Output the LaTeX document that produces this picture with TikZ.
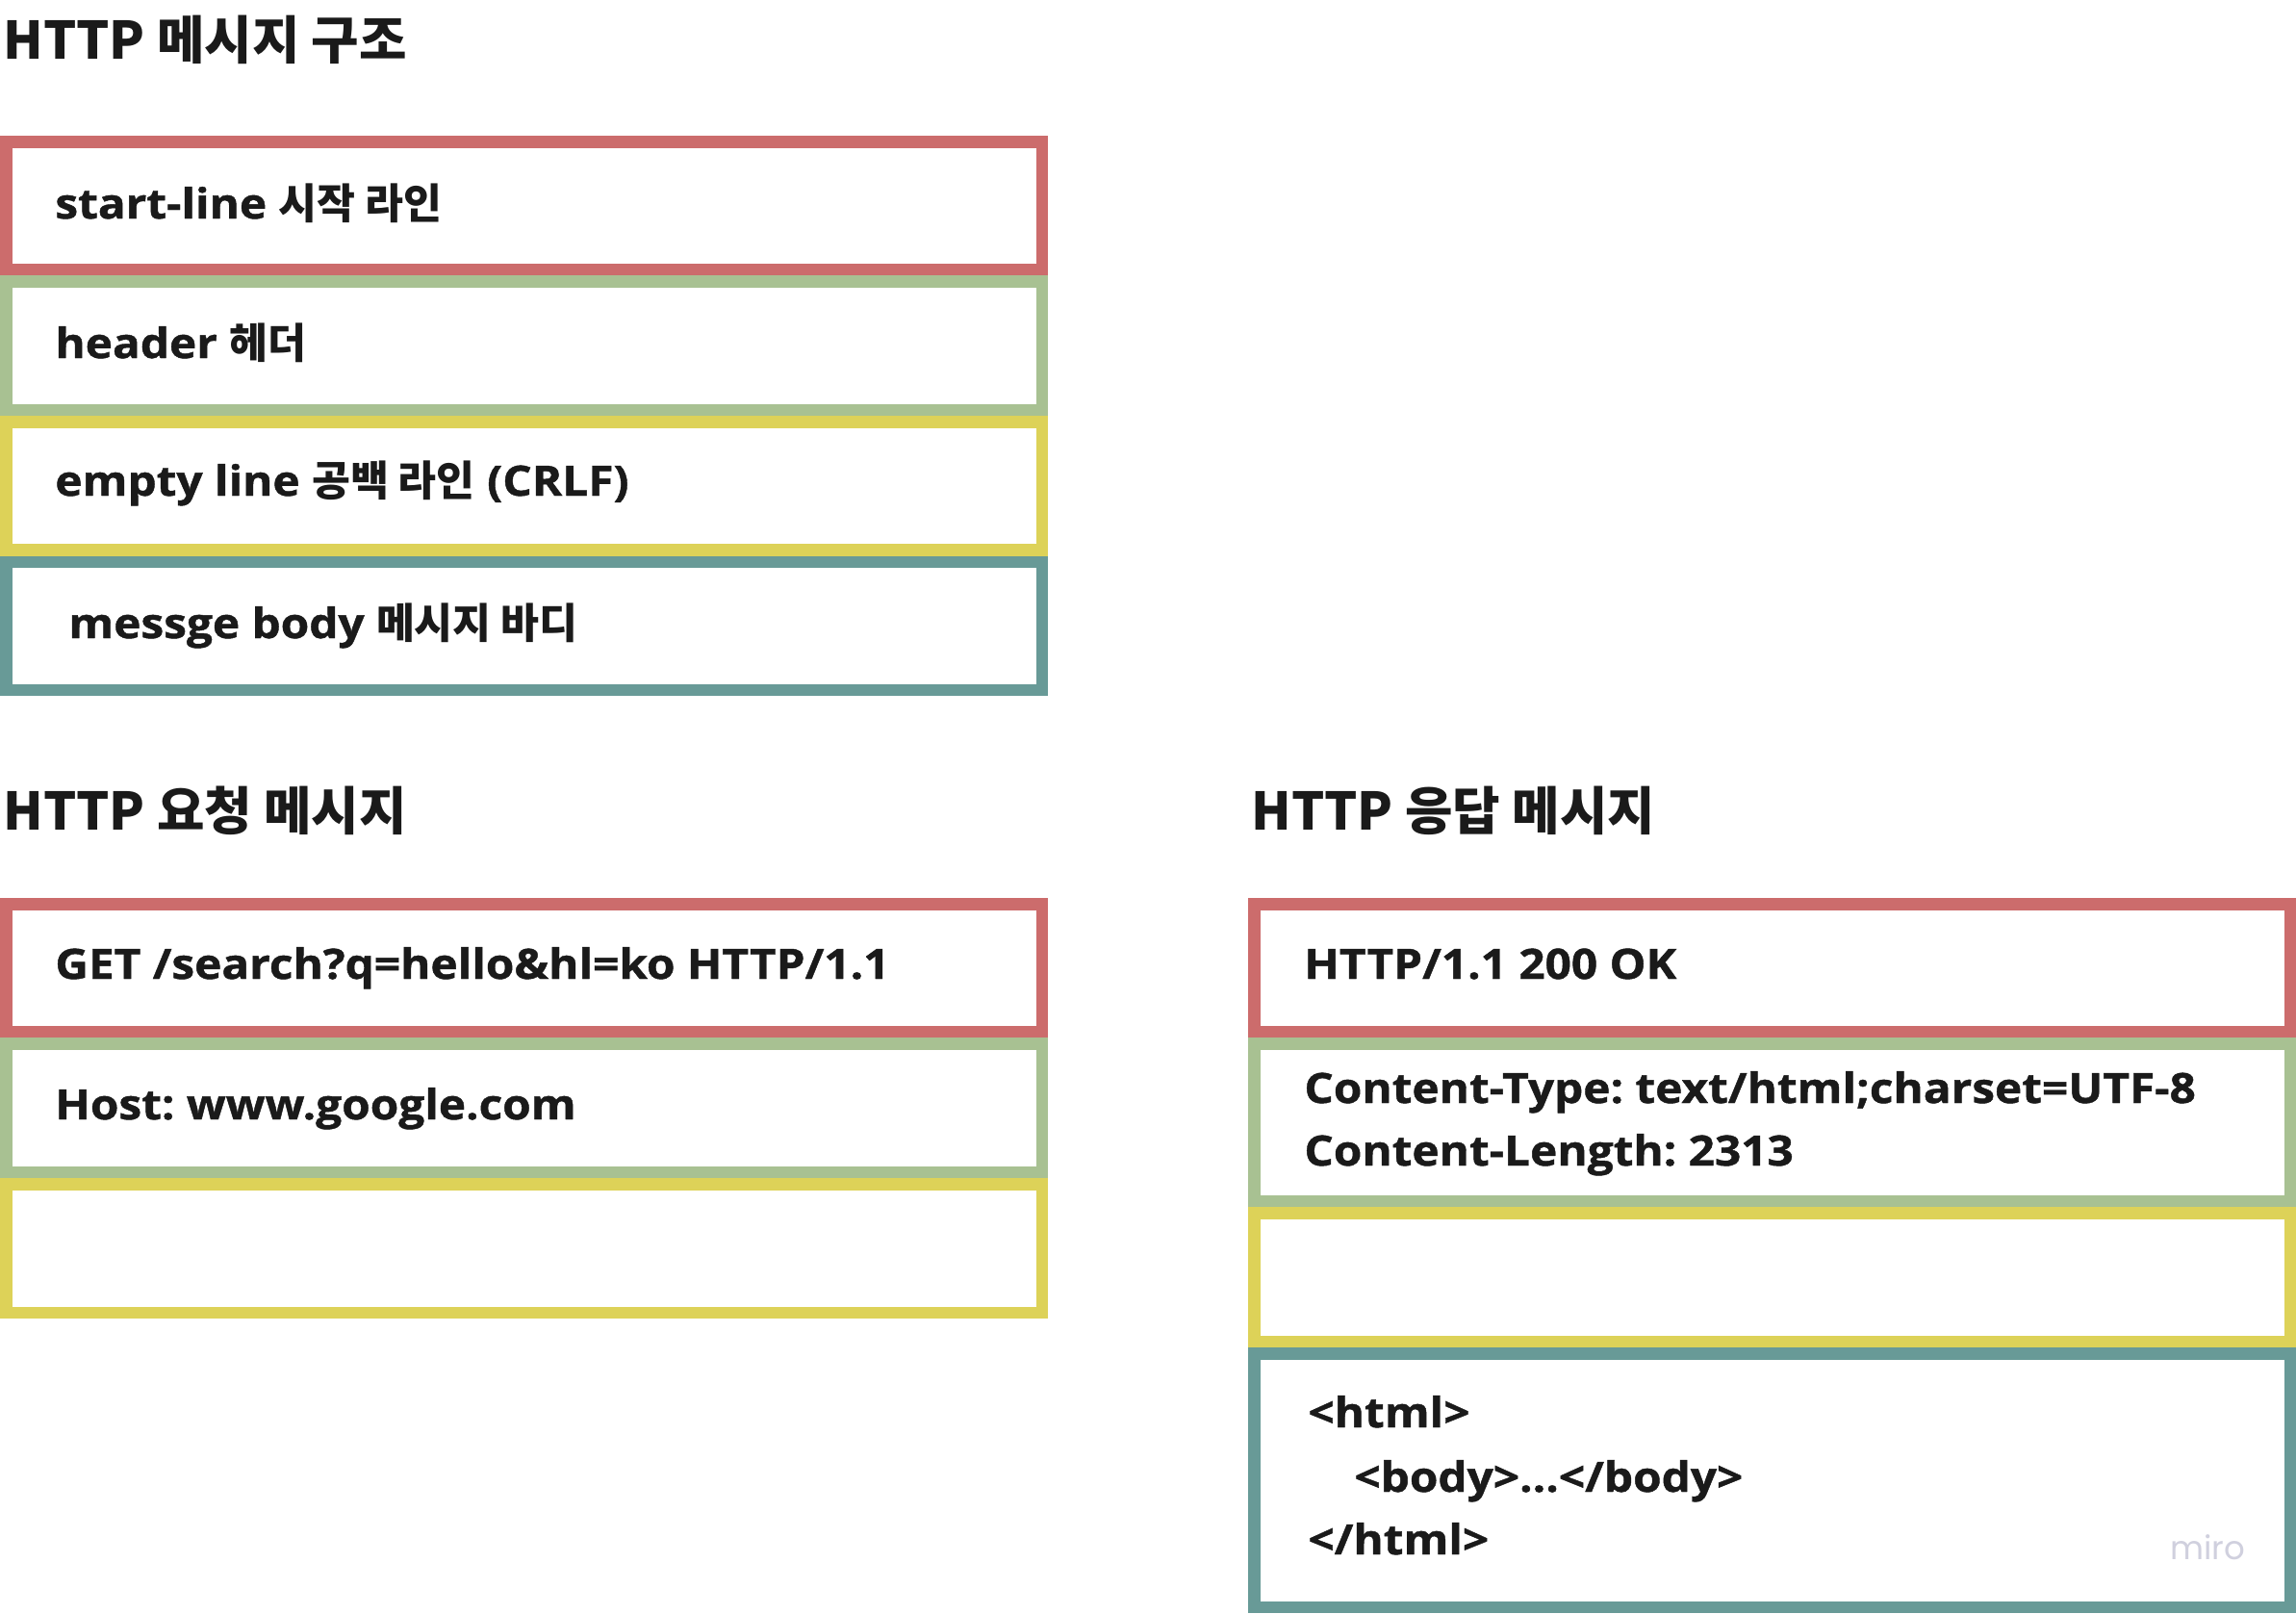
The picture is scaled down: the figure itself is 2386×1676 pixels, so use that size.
\documentclass[tikz,border=0pt]{standalone}
\usepackage{fontspec}
\setmainfont{Open Sans}
\newfontfamily\boxfont{Open Sans}[FakeStretch=1.1, FakeBold=1]
\newfontfamily\kr{Noto Sans CJK KR}
\newfontfamily\mirofont{Poppins}
\definecolor{bred}{HTML}{CC6C6C}
\definecolor{bgreen}{HTML}{A8C192}
\definecolor{byellow}{HTML}{DDD258}
\definecolor{bteal}{HTML}{689A97}
\definecolor{ink}{HTML}{1A1A1A}
\definecolor{wm}{HTML}{D0D0DE}
\newcommand{\msgbox}[5]{\draw[#5, line width=6.25pt] (#1+6.25,#2+6.25) rectangle (#3-6.25,#4-6.25);}
\frenchspacing
\begin{document}
\begin{tikzpicture}[x=0.5pt,y=-0.5pt,
  boxtext/.style={anchor=base west, inner sep=0pt, text=ink, font=\boxfont\bfseries\fontsize{21.7pt}{26pt}\selectfont},
  titletext/.style={anchor=base west, inner sep=0pt, text=ink, font=\kr\bfseries\fontsize{26.9pt}{32pt}\selectfont}]
\useasboundingbox[fill=white] (0,0) rectangle (2386,1676);

% titles
\node[titletext] (t1) at (3,61) {HTTP 메시지 구조};
\node[titletext] (t2) at (3,862) {HTTP 요청 메시지};
\node[titletext] (t3) at (1300,862) {HTTP 응답 메시지};

% structure boxes
\msgbox{0}{141}{1089}{286}{bred}
\msgbox{0}{286}{1089}{432}{bgreen}
\msgbox{0}{432}{1089}{577.5}{byellow}
\msgbox{0}{577.5}{1089}{723}{bteal}
\node[boxtext] (s1) at (57,227) {start-line {\kr 시작 라인}};
\node[boxtext] (s2) at (57,372) {header {\kr 헤더}};
\node[boxtext] (s3) at (57,515) {empty line {\kr 공백 라인} (CRLF)};
\node[boxtext] (s4) at (71,663) {messge body {\kr 메시지 바디}};

% request boxes
\msgbox{0}{933}{1089}{1078}{bred}
\msgbox{0}{1078}{1089}{1224}{bgreen}
\msgbox{0}{1224}{1089}{1370}{byellow}
\node[boxtext] (r1) at (57,1017) {GET /search?q=hello\&hl=ko HTTP/1.1};
\node[boxtext] (r2) at (57,1163) {Host: www.google.com};

% response boxes
\msgbox{1297}{933}{2386}{1078}{bred}
\msgbox{1297}{1078}{2386}{1254}{bgreen}
\msgbox{1297}{1254}{2386}{1400}{byellow}
\msgbox{1297}{1400}{2386}{1676}{bteal}
\node[boxtext] (p1) at (1355,1017) {HTTP/1.1 200 OK};
\node[boxtext] (p2) at (1355,1146) {Content-Type: text/html;charset=UTF-8};
\node[boxtext] (p3) at (1355,1211) {Content-Length: 2313};
\node[boxtext] (p4) at (1359,1483) {<html>};
\node[boxtext] (p5) at (1407,1550) {<body>…</body>};
\node[boxtext] (p6) at (1359,1615) {</html>};

% watermark
\node[anchor=base west, inner sep=0pt, text=wm, font=\mirofont\fontsize{17pt}{20pt}\selectfont] (wmk) at (2255,1620) {miro};
\end{tikzpicture}
\end{document}
